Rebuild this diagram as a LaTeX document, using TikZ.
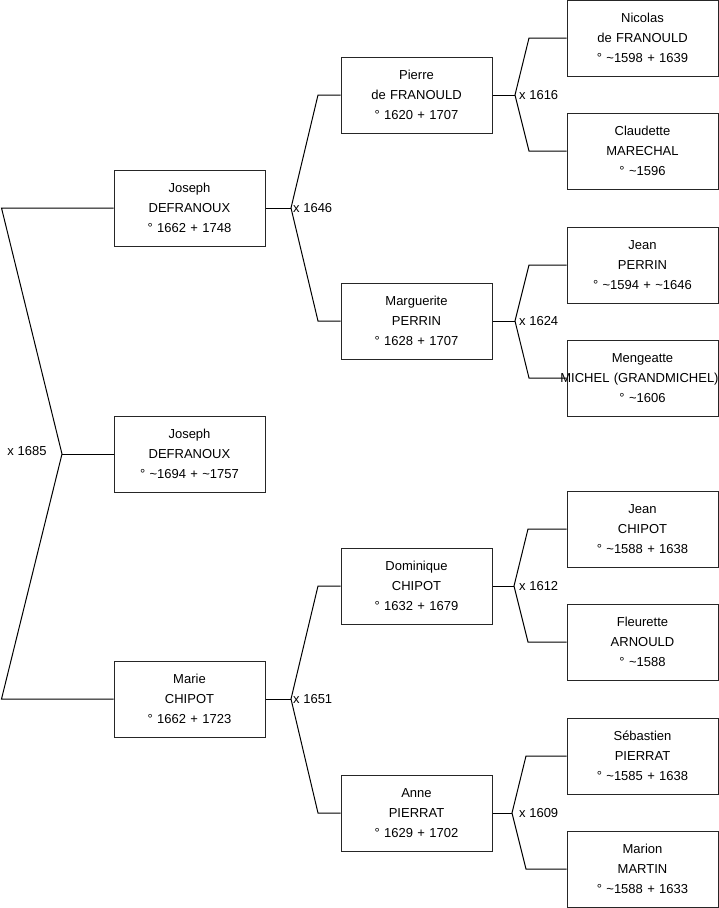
\documentclass[tikz,border=0pt]{standalone}
\usepackage{fontspec}
\setmainfont{Liberation Sans}
\usepackage{tikz}
\usetikzlibrary{calc}

\newcommand{\tld}{\textasciitilde}

\tikzset{
  person/.style={draw=black!85, line width=1pt, text width=151pt, minimum height=76pt,
    inner sep=0pt, align=center, font=\fontsize{13}{20}\selectfont},
  link/.style={line width=1pt},
  wed/.style={anchor=west, inner sep=2pt, font=\fontsize{13}{16}\selectfont}
}

\begin{document}
\begin{tikzpicture}[x=1pt,y=-1pt]
\useasboundingbox (0,0) rectangle (719,908);

% generation 1
\draw(189.5,208) node[person] (josephF) {Joseph\\DEFRANOUX\\° 1662 + 1748};
\draw(189.5,454) node[person] (josephC) {Joseph\\DEFRANOUX\\° \tld1694 + \tld1757};
\draw(189.5,699) node[person] (marie) {Marie\\CHIPOT\\° 1662 + 1723};

% generation 2
\draw(416.5,95) node[person] (pierre) {Pierre\\de FRANOULD\\° 1620 + 1707};
\draw(416.5,321) node[person] (marguerite) {Marguerite\\PERRIN\\° 1628 + 1707};
\draw(416.5,586) node[person] (dominique) {Dominique\\CHIPOT\\° 1632 + 1679};
\draw(416.5,813) node[person] (anne) {Anne\\PIERRAT\\° 1629 + 1702};

% generation 3
\draw(642.5,38) node[person] (nicolas) {Nicolas\\de FRANOULD\\° \tld1598 + 1639};
\draw(642.5,151) node[person] (claudette) {Claudette\\MARECHAL\\° \tld1596};
\draw(642.5,265) node[person] (jeanP) {Jean\\PERRIN\\° \tld1594 + \tld1646};
\draw(642.5,378) node[person] (mengeatte) {Mengeatte\\\makebox[151pt]{MICHEL (GRANDMICHEL)\hspace*{6pt}}\\° \tld1606};
\draw(642.5,529) node[person] (jeanC) {Jean\\CHIPOT\\° \tld1588 + 1638};
\draw(642.5,642) node[person] (fleurette) {Fleurette\\ARNOULD\\° \tld1588};
\draw(642.5,756) node[person] (sebastien) {Sébastien\\PIERRAT\\° \tld1585 + 1638};
\draw(642.5,869) node[person] (marion) {Marion\\MARTIN\\° \tld1588 + 1633};

% x 1685
\coordinate (m1685) at (62,454);
\coordinate (a1) at (1.5,208);
\coordinate (a2) at (1.5,699);
\draw[link] (josephF.west) -- (a1) -- (m1685) -- (a2) -- (marie.west);
\draw[link] (m1685) -- (josephC.west);
\draw(27,451) node[font=\fontsize{13}{16}\selectfont] (l1685) {x 1685};

% x 1646
\coordinate (m1646) at (291,208);
\coordinate (b1) at (318,95);
\coordinate (b2) at (318,321);
\draw[link] (josephF.east) -- (m1646);
\draw[link] (pierre.west) -- (b1) -- (m1646) -- (b2) -- (marguerite.west);
\draw(m1646) node[wed] (l1646) {x 1646};

% x 1651
\coordinate (m1651) at (291,699);
\coordinate (b3) at (318,586);
\coordinate (b4) at (318,813);
\draw[link] (marie.east) -- (m1651);
\draw[link] (dominique.west) -- (b3) -- (m1651) -- (b4) -- (anne.west);
\draw(m1651) node[wed] (l1651) {x 1651};

% x 1616
\coordinate (m1616) at (515,95);
\draw[link] (pierre.east) -- (m1616);
\draw[link] (nicolas.west) -- (529,38) -- (m1616) -- (529,151) -- (claudette.west);
\draw(m1616) node[wed,xshift=2pt] (l1616) {x 1616};

% x 1624
\coordinate (m1624) at (515,321);
\draw[link] (marguerite.east) -- (m1624);
\draw[link] (jeanP.west) -- (529,265) -- (m1624) -- (529,378) -- (mengeatte.west);
\draw(m1624) node[wed,xshift=2pt] (l1624) {x 1624};

% x 1612
\coordinate (m1612) at (514,586);
\draw[link] (dominique.east) -- (m1612);
\draw[link] (jeanC.west) -- (528,529) -- (m1612) -- (528,642) -- (fleurette.west);
\draw(m1612) node[wed,xshift=3pt] (l1612) {x 1612};

% x 1609
\coordinate (m1609) at (512,813);
\draw[link] (anne.east) -- (m1609);
\draw[link] (sebastien.west) -- (526,756) -- (m1609) -- (526,869) -- (marion.west);
\draw(m1609) node[wed,xshift=5pt] (l1609) {x 1609};
\end{tikzpicture}
\end{document}
